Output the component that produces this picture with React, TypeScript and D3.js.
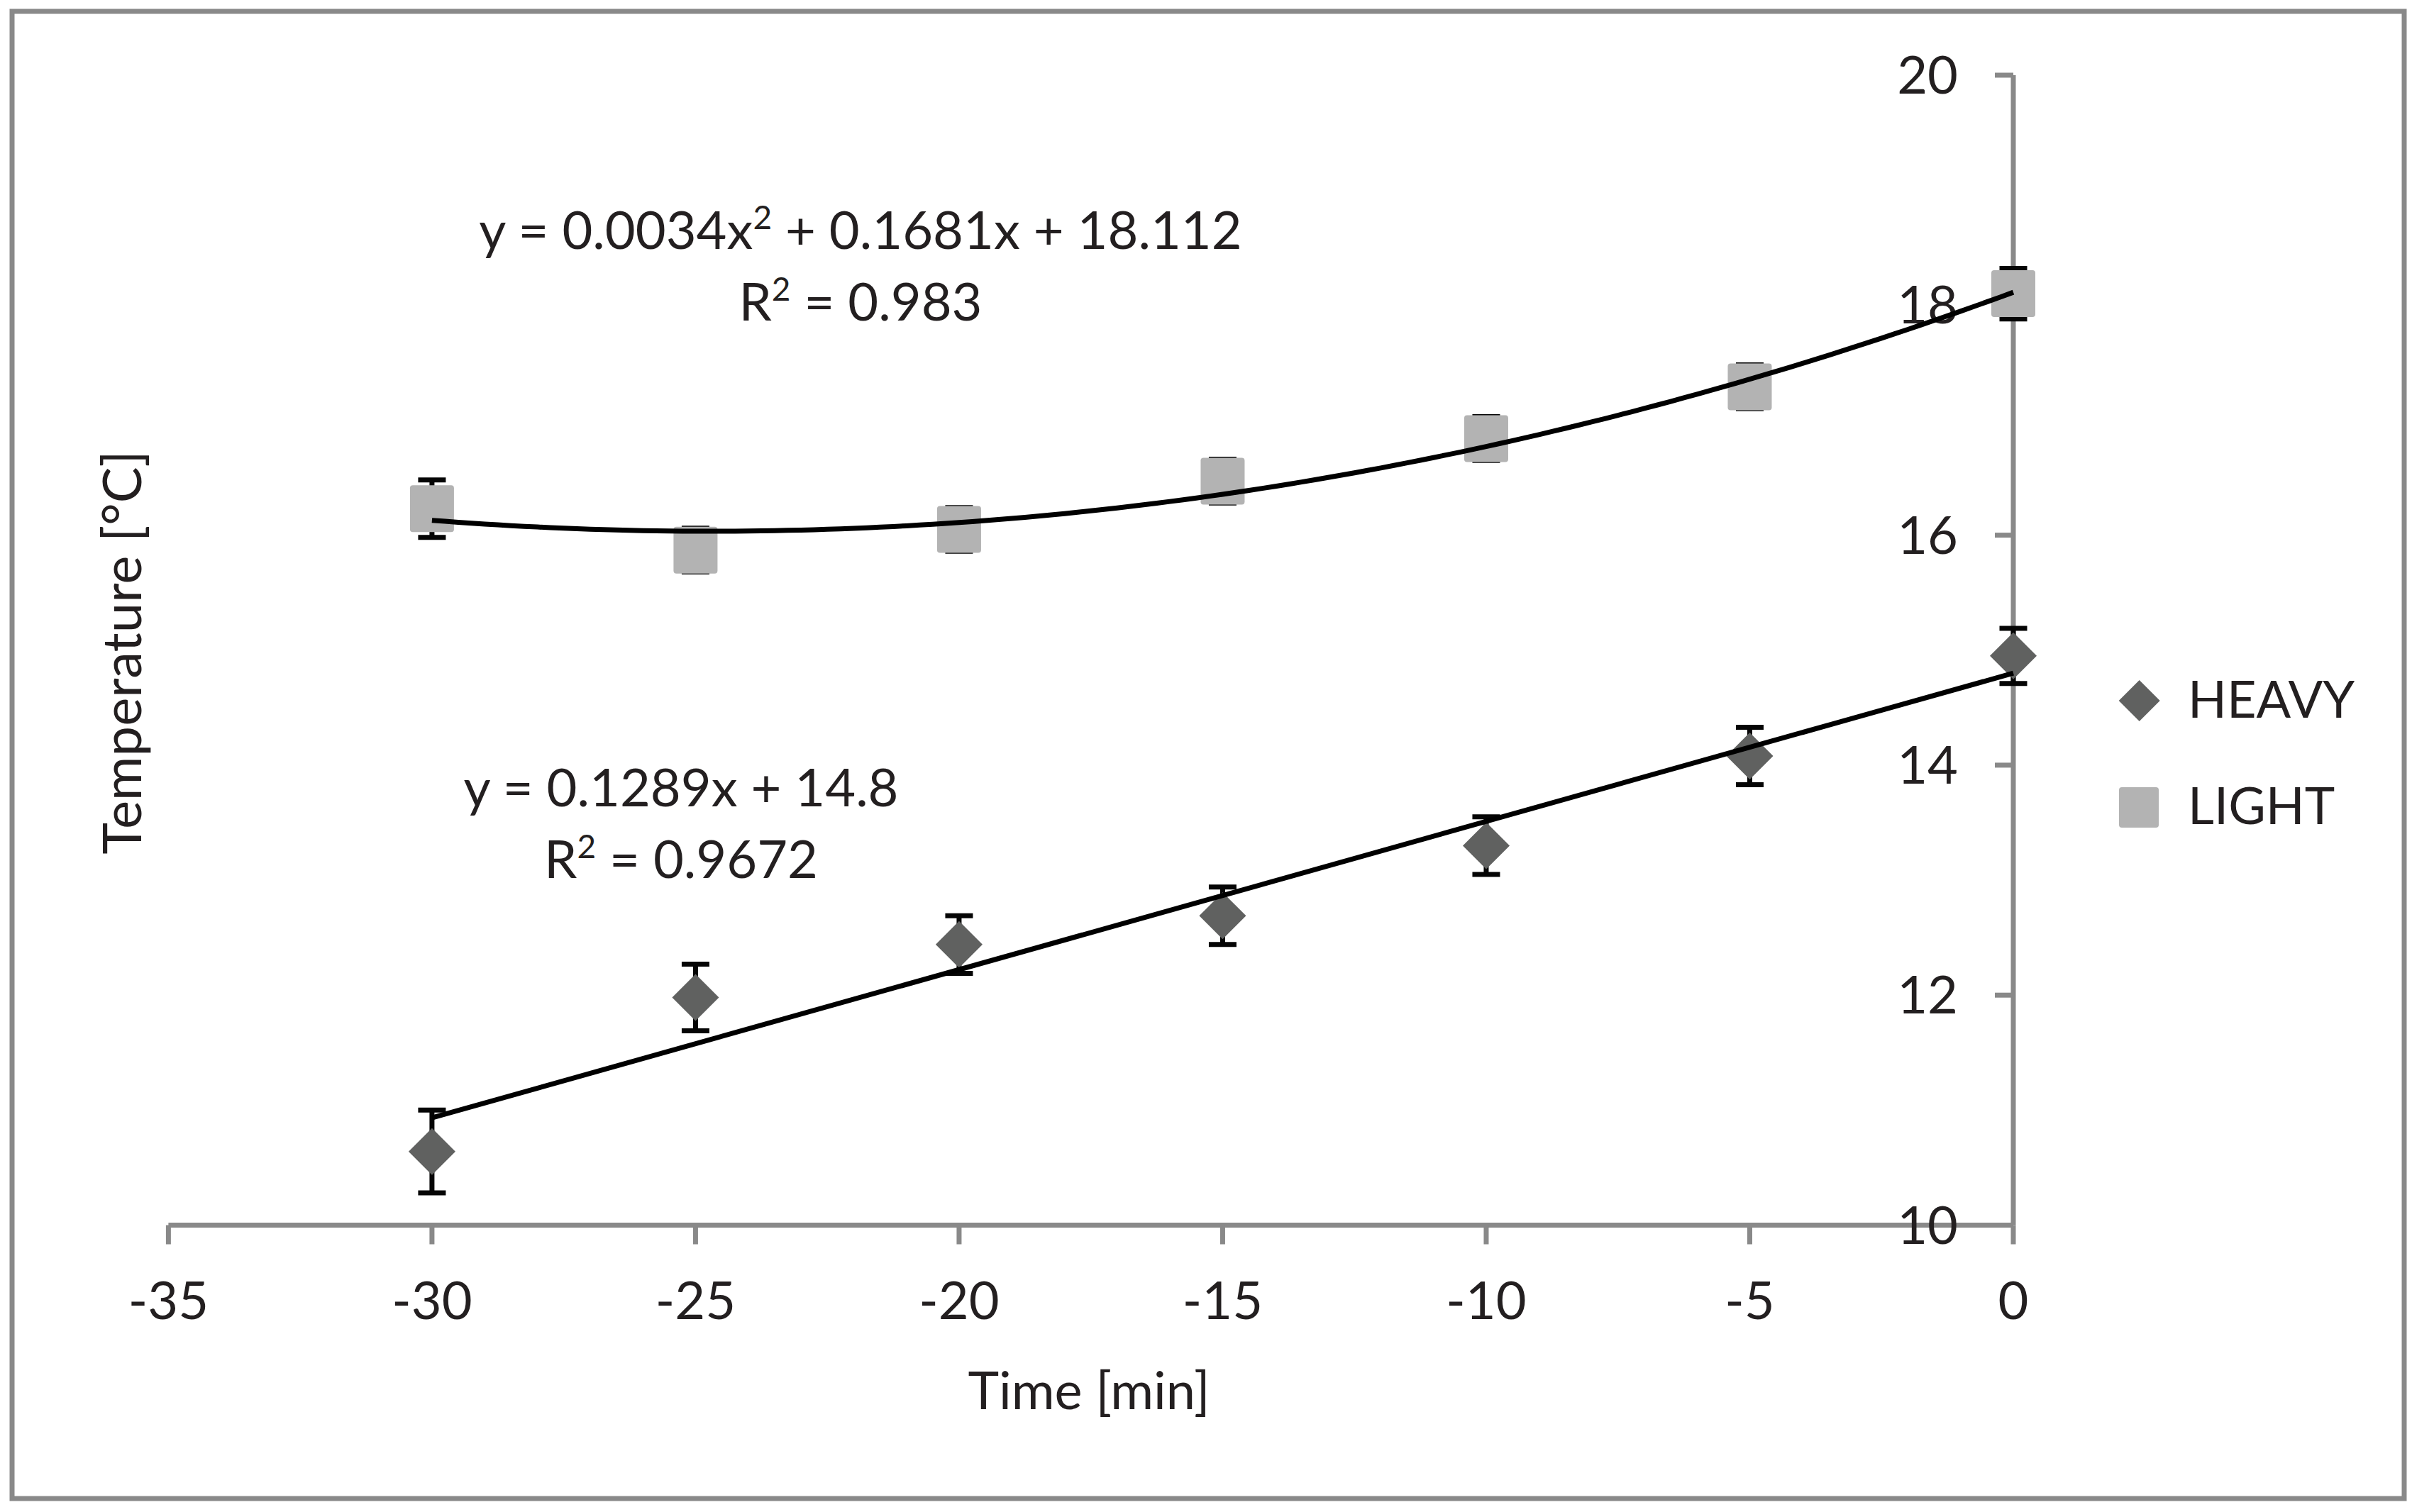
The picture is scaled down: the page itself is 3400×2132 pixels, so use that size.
import React from 'react';
import * as d3 from 'd3';

// time points [min]
const timeValues = [-30, -25, -20, -15, -10, -5, 0];

// HEAVY series: mean temperature and error (±)
const heavyTemp = [10.64, 11.98, 12.44, 12.69, 13.3, 14.08, 14.95];
const heavyErr = [0.36, 0.29, 0.25, 0.25, 0.25, 0.25, 0.24];

// LIGHT series
const lightTemp = [16.23, 15.87, 16.05, 16.47, 16.84, 17.29, 18.1];
const lightErr = [0.25, 0.19, 0.19, 0.19, 0.19, 0.19, 0.22];

// trendline coefficients as printed on the chart
const heavyFit = [0.1289, 14.8]; // slope, intercept
const lightFit = [0.0034, 0.1681, 18.112]; // a, b, c

const xTicks = [-35, -30, -25, -20, -15, -10, -5, 0];
const yTicks = [10, 12, 14, 16, 18, 20];

const W = 3400;
const H = 2132;
const FONT = 'Lato, "Open Sans", sans-serif';
const AXIS = '#898989';
const INK = '#231f20';
const HEAVY_COLOR = '#606160';
const LIGHT_COLOR = '#b3b3b3';

const App: React.FC = () => {
  const x = d3.scaleLinear().domain([-35, 0]).range([237.4, 2838]);
  const y = d3.scaleLinear().domain([10, 20]).range([1727.5, 106]);

  const heavy = timeValues.map((t, i) => ({ t, v: heavyTemp[i], e: heavyErr[i] }));
  const light = timeValues.map((t, i) => ({ t, v: lightTemp[i], e: lightErr[i] }));

  const line = d3
    .line<number[]>()
    .x((d) => x(d[0]))
    .y((d) => y(d[1]));

  const fitDomain = [d3.min(timeValues) as number, d3.max(timeValues) as number];
  const heavyLine = fitDomain.map((t) => [t, heavyFit[0] * t + heavyFit[1]]);
  const lightLine = d3
    .range(fitDomain[0], fitDomain[1] + 0.001, 0.25)
    .map((t) => [t, lightFit[0] * t * t + lightFit[1] * t + lightFit[2]]);

  const diamond = (cx: number, cy: number, r: number) =>
    `M${cx},${cy - r}L${cx + r},${cy}L${cx},${cy + r}L${cx - r},${cy}Z`;

  const errorBars = (data: { t: number; v: number; e: number }[]) =>
    data.map((d, i) => {
      const cx = x(d.t);
      const top = y(d.v + d.e);
      const bot = y(d.v - d.e);
      return (
        <g key={i} stroke="#050505" strokeWidth={7}>
          <line x1={cx} x2={cx} y1={top} y2={bot} />
          <line x1={cx - 19.5} x2={cx + 19.5} y1={top} y2={top} />
          <line x1={cx - 19.5} x2={cx + 19.5} y1={bot} y2={bot} />
        </g>
      );
    });

  return (
    <div style={{ position: 'absolute', left: 0, top: 0 }}>
      <svg width={W} height={H} viewBox={`0 0 ${W} ${H}`} style={{ display: 'block', background: '#fff' }}>
        {/* outer frame */}
        <rect x={17} y={16} width={3372} height={2097} fill="none" stroke={AXIS} strokeWidth={7} />

        {/* x axis */}
        <line x1={x(-35)} x2={x(0)} y1={y(10)} y2={y(10)} stroke={AXIS} strokeWidth={7} />
        {xTicks.map((t) => (
          <g key={t}>
            <line x1={x(t)} x2={x(t)} y1={y(10)} y2={y(10) + 27} stroke={AXIS} strokeWidth={7} />
            <text
              x={x(t)}
              y={1860}
              textAnchor="middle"
              fontFamily={FONT}
              fontSize={74}
              fill={INK}
            >
              {t}
            </text>
          </g>
        ))}

        {/* y axis (drawn at x = 0) */}
        <line x1={x(0)} x2={x(0)} y1={y(20)} y2={y(10)} stroke={AXIS} strokeWidth={7} />
        {yTicks.map((v) => (
          <g key={v}>
            <line x1={x(0) - 26} x2={x(0)} y1={y(v)} y2={y(v)} stroke={AXIS} strokeWidth={7} />
            <text
              x={2760}
              y={y(v) + 26}
              textAnchor="end"
              fontFamily={FONT}
              fontSize={74}
              fill={INK}
            >
              {v}
            </text>
          </g>
        ))}

        {/* axis titles */}
        <text x={1535} y={1987} textAnchor="middle" fontFamily={FONT} fontSize={74} fill={INK}>
          Time [min]
        </text>
        <text
          transform="translate(199,920) rotate(-90)"
          textAnchor="middle"
          fontFamily={FONT}
          fontSize={76}
          fill={INK}
        >
          Temperature [°C]
        </text>

        {/* error bars */}
        {errorBars(light)}
        {errorBars(heavy)}

        {/* markers */}
        {light.map((d, i) => (
          <rect
            key={`l${i}`}
            x={x(d.t) - 31}
            y={y(d.v) - 33}
            width={62}
            height={66}
            rx={4}
            fill={LIGHT_COLOR}
          />
        ))}
        {heavy.map((d, i) => (
          <path key={`h${i}`} d={diamond(x(d.t), y(d.v), 33)} fill={HEAVY_COLOR} strokeLinejoin="round" />
        ))}

        {/* trendlines */}
        <path d={line(lightLine) || ''} fill="none" stroke="#000" strokeWidth={7} />
        <path d={line(heavyLine) || ''} fill="none" stroke="#000" strokeWidth={7} />

        {/* trendline equations */}
        <g fontFamily={FONT} fontSize={74} fill={INK} textAnchor="middle">
          <text x={1213} y={351}>
            y = 0.0034x<tspan dy={-28} fontSize={46}>2</tspan>
            <tspan dy={28}> + 0.1681x + 18.112</tspan>
          </text>
          <text x={1213} y={452}>
            R<tspan dy={-28} fontSize={46}>2</tspan>
            <tspan dy={28}> = 0.983</tspan>
          </text>
          <text x={960} y={1137}>
            y = 0.1289x + 14.8
          </text>
          <text x={960} y={1238}>
            R<tspan dy={-28} fontSize={46}>2</tspan>
            <tspan dy={28}> = 0.9672</tspan>
          </text>
        </g>

        {/* legend */}
        <path d={diamond(3015.7, 988, 29)} fill={HEAVY_COLOR} />
        <text x={3084} y={1012} fontFamily={FONT} fontSize={72} fill={INK}>
          HEAVY
        </text>
        <rect x={2987} y={1110} width={56} height={57} rx={4} fill={LIGHT_COLOR} />
        <text x={3084} y={1162} fontFamily={FONT} fontSize={72} fill={INK}>
          LIGHT
        </text>
      </svg>
    </div>
  );
};

export default App;
